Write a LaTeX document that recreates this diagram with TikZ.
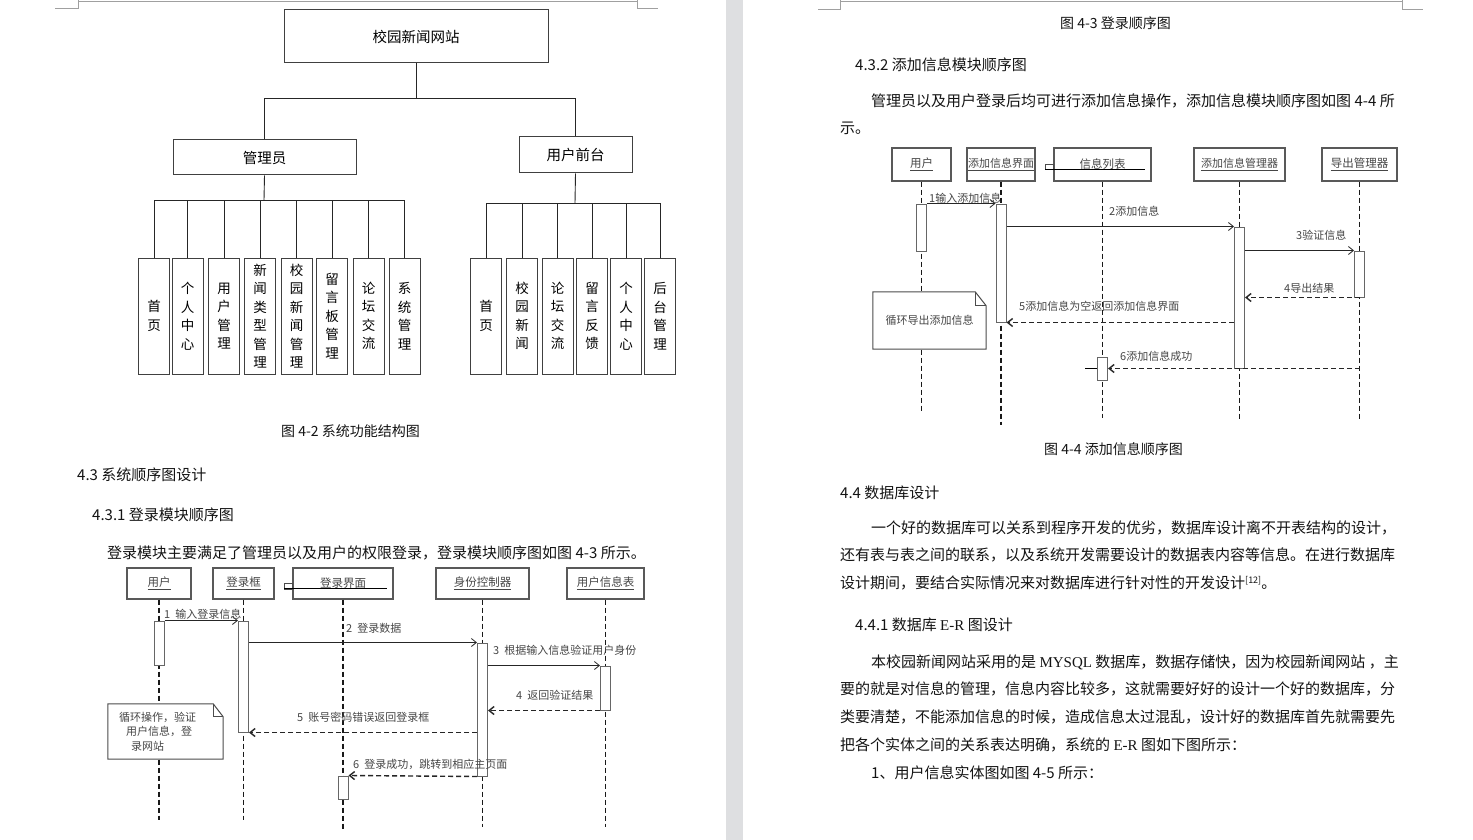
\documentclass[tikz,border=0pt]{standalone}
\usepackage{fontspec}
\setmainfont{Noto Sans CJK SC}
\newfontfamily\rmlatin{Liberation Serif}
\usepackage{tikz}
\usetikzlibrary{positioning,arrows.meta}
\definecolor{pagegap}{RGB}{222,223,225}
\definecolor{cropgray}{RGB}{160,160,160}
\definecolor{seqgray}{RGB}{70,70,70}
\definecolor{inkblack}{RGB}{20,20,20}
\newcommand{\fsz}[1]{\fontsize{#1}{#1}\selectfont}
\tikzset{
  orgbox/.style={rectangle, draw=black!75, line width=1pt, inner sep=0pt, font=\fsz{14.5}},
  vbox/.style={orgbox, align=center, minimum width=31pt, minimum height=116pt,
               font=\fontsize{13.5}{18.5}\selectfont},
  tree/.style={line width=0.9pt, draw=black!85},
  head/.style={rectangle, draw=black!65, line width=1.1pt, minimum height=31pt,
               inner sep=0pt, font=\fsz{11.5}, text=seqgray},
  life/.style={line width=1.7pt, dash pattern=on 5pt off 3pt, draw=black!90},
  actbar/.style={rectangle, draw=black!60, fill=white, line width=1pt,
                 minimum width=10pt, inner sep=0pt},
  msg/.style={-{Straight Barb[length=5pt,width=8pt]}, line width=0.8pt, draw=black!85},
  ret/.style={msg, line width=1.4pt, dash pattern=on 5pt off 3pt},
  mlabel/.style={anchor=west, inner sep=0pt, font=\fsz{11}, text=seqgray},
  notebox/.style={rectangle, fill=white, inner sep=0pt, text=seqgray},
  noteline/.style={draw=black!70, line width=1pt},
  crop/.style={draw=cropgray, line width=0.8pt},
  bodytext/.style={anchor=west, inner sep=0pt, font=\fsz{15}, text=inkblack},
  heading/.style={bodytext},
  caption/.style={anchor=west, inner sep=0pt, font=\fsz{14}, text=inkblack},
}

\begin{document}
\begin{tikzpicture}[x=1pt, y=-1pt]
  \useasboundingbox (0,0) rectangle (1473,840);
  \fill[white] (0,0) rectangle (1473,840);
  \fill[pagegap] (726,0) rectangle (743,840);
  % page corners
  \draw[crop] (55,8) -- (78,8) -- (78,0);
  \draw[crop] (78,1) -- (637,1);
  \draw[crop] (637,0) -- (637,8) -- (658,8);
  \draw[crop] (818,9) -- (840,9) -- (840,0);
  \draw[crop] (840,1) -- (1402,1);
  \draw[crop] (1402,0) -- (1402,9) -- (1423,9);

  % ---- system structure (fig 4-2)
  \node[orgbox, minimum width=264pt, minimum height=53pt] (site) at (416,36.5) {校园新闻网站};
  \node[orgbox, minimum width=183pt, minimum height=35pt] (admin) at (264.5,157.5) {管理员};
  \node[orgbox, minimum width=113pt, minimum height=36pt] (front) at (575.5,155) {用户前台};

  \node[vbox] (a1) at (154,316) {首\\页};
  \node[vbox] (a2) at (187.5,316) {个\\人\\中\\心};
  \node[vbox] (a3) at (224,316) {用\\户\\管\\理};
  \node[vbox] (a4) at (260,316) {新\\闻\\类\\型\\管\\理};
  \node[vbox] (a5) at (296.5,316) {校\\园\\新\\闻\\管\\理};
  \node[vbox] (a6) at (332,316) {留\\言\\板\\管\\理};
  \node[vbox] (a7) at (368.5,316) {论\\坛\\交\\流};
  \node[vbox] (a8) at (404.5,316) {系\\统\\管\\理};

  \node[vbox] (b1) at (486,316) {首\\页};
  \node[vbox] (b2) at (522,316) {校\\园\\新\\闻};
  \node[vbox] (b3) at (557.5,316) {论\\坛\\交\\流};
  \node[vbox] (b4) at (592,316) {留\\言\\反\\馈};
  \node[vbox] (b5) at (626,316) {个\\人\\中\\心};
  \node[vbox] (b6) at (660,316) {后\\台\\管\\理};

  \coordinate (topbus) at (416,98);
  \coordinate (admbus) at (264,200);
  \coordinate (frontbus) at (575,203);
  \draw[tree] (site.south) -- (topbus);
  \draw[tree] (admin.north) -- (admin.north |- topbus) -| (front.north);
  \draw[tree] (admin.south) -- (admbus);
  \draw[tree] (a1.north) -- (a1.north |- admbus) -| (a8.north);
  \draw[tree] (a2.north) -- (a2.north |- admbus);
  \draw[tree] (a3.north) -- (a3.north |- admbus);
  \draw[tree] (a4.north) -- (a4.north |- admbus);
  \draw[tree] (a5.north) -- (a5.north |- admbus);
  \draw[tree] (a6.north) -- (a6.north |- admbus);
  \draw[tree] (a7.north) -- (a7.north |- admbus);
  \draw[tree] (front.south) -- (frontbus);
  \draw[tree] (b1.north) -- (b1.north |- frontbus) -| (b6.north);
  \draw[tree] (b2.north) -- (b2.north |- frontbus);
  \draw[tree] (b3.north) -- (b3.north |- frontbus);
  \draw[tree] (b4.north) -- (b4.north |- frontbus);
  \draw[tree] (b5.north) -- (b5.north |- frontbus);

  \node[caption] (cap42) at (281,431) {图 4-2 系统功能结构图};
  \node[heading] (sec43) at (77,475) {4.3 系统顺序图设计};
  \node[heading] (sec431) at (92,515) {4.3.1 登录模块顺序图};
  \node[bodytext] (para43) at (107,553) {登录模块主要满足了管理员以及用户的权限登录，登录模块顺序图如图 4-3 所示。};

  % ---- login sequence (fig 4-3)
  \node[head, minimum width=64pt] (user) at (159,583.5) {\underline{用户}};
  \node[head, minimum width=61pt] (loginbox) at (243.5,583.5) {\underline{登录框}};
  \node[head, minimum width=100pt] (loginpage) at (343,583.5) {登录界面};
  \node[head, minimum width=93pt] (auth) at (482.5,583.5) {\underline{身份控制器}};
  \node[head, minimum width=77pt] (usertable) at (605.5,583.5) {\underline{用户信息表}};
  \draw[noteline, line width=0.8pt] ([xshift=-8pt]loginpage.west) rectangle ([yshift=-5.5pt]loginpage.west);
  \draw[line width=0.8pt] ([xshift=-8pt,yshift=-4.5pt]loginpage.west) -- ([xshift=-7pt,yshift=-4.5pt]loginpage.east);

  \coordinate (userend) at (159,820);
  \coordinate (loginboxend) at (243.5,820);
  \coordinate (loginpageend) at (343,830);
  \coordinate (authend) at (482.5,827);
  \coordinate (usertableend) at (605.5,827);
  \draw[life] (user.south) -- (userend);
  \draw[life] (loginbox.south) -- (loginboxend);
  \draw[life] (loginpage.south) -- (loginpageend);
  \draw[life] (auth.south) -- (authend);
  \draw[life] (usertable.south) -- (usertableend);

  \node[actbar, minimum height=44pt] (userbar) at (159,643) {};
  \node[actbar, minimum height=111pt] (boxbar) at (243.5,676.5) {};
  \node[actbar, minimum height=133pt] (authbar) at (482.5,709.5) {};
  \node[actbar, minimum height=44pt] (tablebar) at (605.5,688) {};
  \node[actbar, minimum height=23pt] (pagebar) at (343,787.5) {};

  \draw[msg] (userbar.north east) -- (boxbar.north west);
  \draw[msg] (boxbar.east |- authbar.north) -- (authbar.north west);
  \draw[msg] (authbar.east |- tablebar.north) -- (tablebar.north west);
  \draw[ret] (tablebar.south west) -- (authbar.east |- tablebar.south);
  \draw[ret] (authbar.west |- boxbar.south) -- (boxbar.south east);
  \draw[ret] (authbar.south west) -- (pagebar.north east);

  \node[mlabel] (m1) at (164,614) {1\hspace{5pt}输入登录信息};
  \node[mlabel] (m2) at (346,628) {2\hspace{5pt}登录数据};
  \node[mlabel] (m3) at (493,650) {3\hspace{5pt}根据输入信息验证用户身份};
  \node[mlabel] (m4) at (516,695) {4\hspace{5pt}返回验证结果};
  \node[mlabel] (m5) at (297,717) {5\hspace{5pt}账号密码错误返回登录框};
  \node[mlabel] (m6) at (353,764) {6\hspace{5pt}登录成功，跳转到相应主页面};

  \node[notebox, minimum width=115pt, minimum height=55pt, text width=105pt, align=left,
        font=\fontsize{11}{14.5}\selectfont] (loopnote) at (165.5,731.5)
    {\hspace{6pt}循环操作，验证\\\hspace{13pt}用户信息，登\\\hspace{18pt}录网站};
  \draw[noteline] (loopnote.north west) -- ([xshift=-10pt]loopnote.north east)
    -- ([yshift=-13pt]loopnote.north east) -- (loopnote.south east) -- (loopnote.south west) -- cycle;
  \draw[noteline] ([xshift=-10pt]loopnote.north east) |- ([yshift=-13pt]loopnote.north east);

  % ---- right page
  \node[caption] (cap43) at (1060,23) {图 4-3 登录顺序图};
  \node[heading] (sec432) at (855,65) {4.3.2 添加信息模块顺序图};
  \node[bodytext] (p1a) at (871,101) {管理员以及用户登录后均可进行添加信息操作，添加信息模块顺序图如图 4-4 所};
  \node[bodytext] (p1b) at (840,128) {示。};

  % ---- add-info sequence (fig 4-4)
  \node[head, minimum width=59pt, minimum height=33pt] (ruser) at (921.5,164.5) {\underline{用户}};
  \node[head, minimum width=68pt, minimum height=33pt, font=\fsz{11}] (rform) at (1001,164.5) {\underline{添加信息界面}};
  \node[head, minimum width=97pt, minimum height=33pt] (rlist) at (1102.5,164.5) {信息列表};
  \node[head, minimum width=91pt, minimum height=33pt, font=\fsz{11}] (rmgr) at (1239.5,164.5) {\underline{添加信息管理器}};
  \node[head, minimum width=75pt, minimum height=33pt] (rexport) at (1359.5,164.5) {\underline{导出管理器}};
  \draw[noteline, line width=0.8pt] ([xshift=-8pt]rlist.west) rectangle ([yshift=-5pt]rlist.west);
  \draw[line width=0.8pt] ([xshift=-8pt,yshift=-4.5pt]rlist.west) -- ([xshift=-7pt,yshift=-4.5pt]rlist.east);

  \coordinate (ruserend) at (921.5,412);
  \coordinate (rformend) at (1001,425);
  \coordinate (rlistend) at (1102.5,418);
  \coordinate (rmgrend) at (1239.5,420);
  \coordinate (rexportend) at (1359.5,420);
  \draw[life] (ruser.south) -- (ruserend);
  \draw[life] (rform.south) -- (rformend);
  \draw[life] (rlist.south) -- (rlistend);
  \draw[life] (rmgr.south) -- (rmgrend);
  \draw[life] (rexport.south) -- (rexportend);

  \node[actbar, minimum height=47pt] (ruserbar) at (921.5,227.5) {};
  \node[actbar, minimum height=118pt] (rformbar) at (1001,263) {};
  \node[actbar, minimum height=141pt] (rmgrbar) at (1239.5,297.5) {};
  \node[actbar, minimum height=46pt] (rexportbar) at (1359.5,274) {};
  \node[actbar, minimum height=23pt] (rlistbar) at (1102.5,368.5) {};
  \draw[line width=0.9pt] ([xshift=-12pt]rlistbar.west) -- (rlistbar.west);

  \draw[msg] (ruserbar.north east) -- (rformbar.north west);
  \draw[msg] (rformbar.east |- rmgrbar.north) -- (rmgrbar.north west);
  \draw[msg] (rmgrbar.east |- rexportbar.north) -- (rexportbar.north west);
  \draw[ret] (rexportbar.south) -- (rmgrbar.east |- rexportbar.south);
  \draw[ret] (rmgrbar.west |- rformbar.south) -- (rformbar.south east);
  \draw[ret] (rexportbar.south |- rmgrbar.south) -- (rlistbar.east);

  \node[mlabel] (r1) at (929,198) {1输入添加信息};
  \node[mlabel] (r2) at (1109,211) {2添加信息};
  \node[mlabel] (r3) at (1296,235) {3验证信息};
  \node[mlabel] (r4) at (1284,288) {4导出结果};
  \node[mlabel] (r5) at (1019,306) {5添加信息为空返回添加信息界面};
  \node[mlabel] (r6) at (1120,356) {6添加信息成功};

  \node[notebox, minimum width=113pt, minimum height=57pt, font=\fsz{11}] (exportnote) at (929.5,320.5) {循环导出添加信息};
  \draw[noteline] (exportnote.north west) -- ([xshift=-11pt]exportnote.north east)
    -- ([yshift=-14pt]exportnote.north east) -- (exportnote.south east) -- (exportnote.south west) -- cycle;
  \draw[noteline] ([xshift=-11pt]exportnote.north east) |- ([yshift=-14pt]exportnote.north east);

  \node[caption] (cap44) at (1044,449) {图 4-4 添加信息顺序图};
  \node[heading] (sec44) at (840,493) {4.4 数据库设计};
  \node[bodytext] (p2a) at (871,528) {一个好的数据库可以关系到程序开发的优劣，数据库设计离不开表结构的设计，};
  \node[bodytext] (p2b) at (840,555) {还有表与表之间的联系，以及系统开发需要设计的数据表内容等信息。在进行数据库};
  \node[bodytext] (p2c) at (840,583) {设计期间，要结合实际情况来对数据库进行针对性的开发设计\raisebox{5pt}{\fsz{9}[12]}。};
  \node[heading] (sec441) at (855,625) {4.4.1 数据库 {\rmlatin E-R} 图设计};
  \node[bodytext] (p3a) at (871,662) {本校园新闻网站采用的是 {\rmlatin MYSQL} 数据库，数据存储快，因为校园新闻网站 ，主};
  \node[bodytext] (p3b) at (840,689) {要的就是对信息的管理，信息内容比较多，这就需要好好的设计一个好的数据库，分};
  \node[bodytext] (p3c) at (840,717) {类要清楚，不能添加信息的时候，造成信息太过混乱，设计好的数据库首先就需要先};
  \node[bodytext] (p3d) at (840,745) {把各个实体之间的关系表达明确，系统的 {\rmlatin E-R} 图如下图所示：};
  \node[bodytext] (p3e) at (871,773) {1、用户信息实体图如图 4-5 所示：};
\end{tikzpicture}
\end{document}
